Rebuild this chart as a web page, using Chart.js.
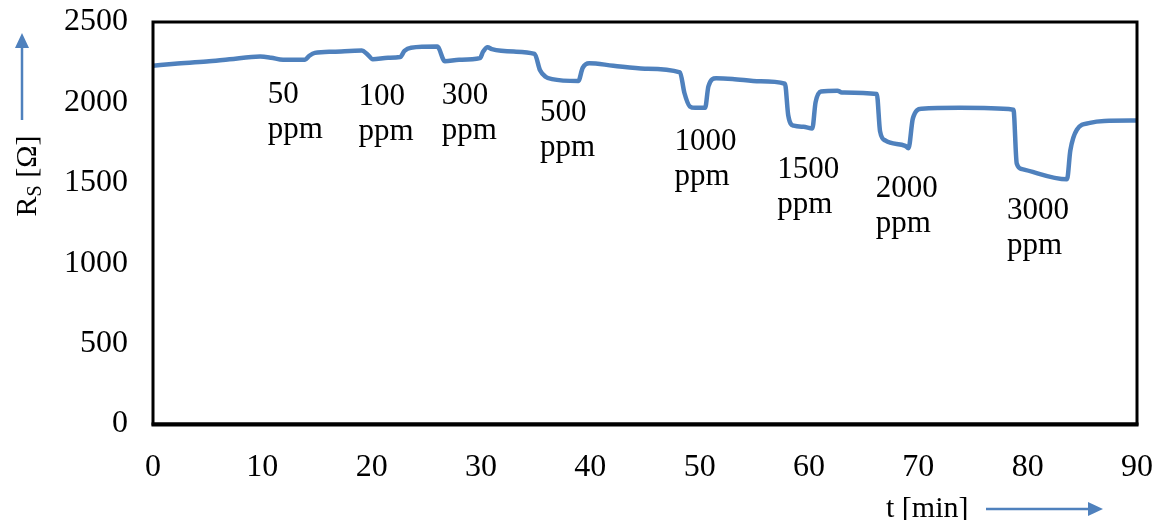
<!DOCTYPE html>
<html lang="en">
<head>
    <meta charset="UTF-8">
    <title>Sensor resistance</title>
    <script src="https://cdn.jsdelivr.net/npm/chart.js"></script>
    <style>
        body { margin: 0; background: #fff; }
        #box { width: 1158px; height: 520px; }
    </style>
</head>
<body>
<div id="box">
    <canvas id="graficoRs" width="1158" height="520"></canvas>
</div>

<script>
    // time [min] and sensor resistance Rs [Ohm]
    const tempos = [0, 2, 4.9, 7, 9.8, 10.8, 11.9, 13.9, 14.3, 14.8, 16.5, 19.1, 19.6, 20.1, 21.5, 22.6,
        23.0, 23.6, 26.0, 26.7, 28, 29.9, 30.2, 30.6, 31.0, 33, 34.9, 35.4, 35.9, 36.5, 38.9, 39.3,
        39.9, 42.1, 45, 48.2, 48.6, 49.1, 49.6, 50.5, 50.8, 51.5, 53, 55.5, 57.8, 58.1, 58.6, 59.5,
        60.3, 60.6, 61.1, 62.6, 63, 66.2, 66.5, 67.0, 68.8, 69.1, 69.5, 70.3, 73.8, 78.7, 79.0, 79.5,
        83.6, 83.9, 84.5, 85.7, 87, 90];
    const resistencia = [2228, 2240, 2254, 2268, 2285, 2278, 2265, 2266, 2290, 2308, 2315, 2322, 2300, 2268, 2278, 2282,
        2320, 2340, 2347, 2256, 2265, 2275, 2316, 2343, 2331, 2316, 2302, 2200, 2160, 2145, 2133, 2215,
        2244, 2228, 2210, 2187, 2060, 1975, 1966, 1966, 2100, 2150, 2146, 2131, 2116, 1920, 1855, 1848,
        1838, 2000, 2068, 2073, 2062, 2052, 1820, 1762, 1730, 1715, 1900, 1960, 1966, 1955, 1620, 1585,
        1522, 1700, 1830, 1873, 1885, 1887];

    const ticksX = [0, 10, 20, 30, 40, 50, 60, 70, 80, 90];
    const ticksY = [0, 500, 1000, 1500, 2000, 2500];

    // gas concentration notes, anchored in data units (left edge, middle of first line)
    const concentracoes = ['50', '100', '300', '500', '1000', '1500', '2000', '3000'];
    const notaT = [10.5, 18.8, 26.4, 35.4, 47.7, 57.1, 66.1, 78.1];
    const notaR = [2048, 2036, 2042, 1937, 1757, 1578, 1460, 1324];

    const azul = '#4f81bd';
    const fonte = "'Liberation Serif', 'Times New Roman', serif";

    function seta(ctx, x1, y1, x2, y2) {
        const ang = Math.atan2(y2 - y1, x2 - x1);
        const len = 15, meia = 7;
        ctx.strokeStyle = azul;
        ctx.fillStyle = azul;
        ctx.lineWidth = 2.5;
        ctx.beginPath();
        ctx.moveTo(x1, y1);
        ctx.lineTo(x2 - Math.cos(ang) * len, y2 - Math.sin(ang) * len);
        ctx.stroke();
        ctx.beginPath();
        ctx.moveTo(x2, y2);
        ctx.lineTo(x2 - Math.cos(ang) * len - Math.sin(ang) * meia, y2 - Math.sin(ang) * len + Math.cos(ang) * meia);
        ctx.lineTo(x2 - Math.cos(ang) * len + Math.sin(ang) * meia, y2 - Math.sin(ang) * len - Math.cos(ang) * meia);
        ctx.closePath();
        ctx.fill();
    }

    const extras = {
        id: 'extras',
        afterDatasetsDraw(chart) {
            const ctx = chart.ctx;
            const a = chart.chartArea;
            const sx = chart.scales.x, sy = chart.scales.y;

            // frame around the plot
            ctx.save();
            ctx.strokeStyle = '#000';
            ctx.lineWidth = 3;
            ctx.strokeRect(a.left, a.top, a.right - a.left, a.bottom - a.top);
            ctx.lineWidth = 4;
            ctx.beginPath();
            ctx.moveTo(a.left - 1.5, a.bottom + 0.5);
            ctx.lineTo(a.right + 1.5, a.bottom + 0.5);
            ctx.stroke();

            // ppm notes
            ctx.fillStyle = '#000';
            ctx.font = '31px ' + fonte;
            ctx.textAlign = 'left';
            ctx.textBaseline = 'middle';
            for (let i = 0; i < concentracoes.length; i++) {
                const x = sx.getPixelForValue(notaT[i]);
                const y = sy.getPixelForValue(notaR[i]);
                ctx.fillText(concentracoes[i], x, y);
                ctx.fillText('ppm', x, y + 35);
            }

            // y title: Rs [Ω], rotated
            ctx.save();
            ctx.translate(36, 176);
            ctx.rotate(-Math.PI / 2);
            ctx.textBaseline = 'alphabetic';
            ctx.font = '30px ' + fonte;
            const wR = ctx.measureText('R').width;
            const wO = ctx.measureText(' [Ω]').width;
            ctx.font = '20px ' + fonte;
            const wS = ctx.measureText('S').width;
            let px = -(wR + wS + wO) / 2;
            ctx.font = '30px ' + fonte;
            ctx.fillText('R', px, 0);
            px += wR;
            ctx.font = '20px ' + fonte;
            ctx.fillText('S', px, 5);
            px += wS;
            ctx.font = '30px ' + fonte;
            ctx.fillText(' [Ω]', px, 0);
            ctx.restore();

            // x title
            ctx.font = '30px ' + fonte;
            ctx.textBaseline = 'middle';
            ctx.fillText('t [min]', 886, 509);

            seta(ctx, 22, 120, 22, 33);
            seta(ctx, 986, 509, 1103, 509);
            ctx.restore();
        }
    };

    const pontos = tempos.map(function (t, i) { return { x: t, y: resistencia[i] }; });

    new Chart(document.getElementById('graficoRs'), {
        type: 'line',
        data: {
            datasets: [{
                data: pontos,
                borderColor: azul,
                borderWidth: 4.5,
                pointRadius: 0,
                cubicInterpolationMode: 'monotone',
                fill: false
            }]
        },
        options: {
            responsive: false,
            animation: false,
            devicePixelRatio: 1,
            layout: { padding: { left: 0, top: 22, right: 21, bottom: 0 } },
            plugins: { legend: { display: false }, tooltip: { enabled: false } },
            scales: {
                x: {
                    type: 'linear',
                    min: 0,
                    max: 90,
                    afterBuildTicks: function (s) { s.ticks = ticksX.map(function (v) { return { value: v }; }); },
                    afterFit: function (s) { s.height = 96; s.paddingLeft = 0; s.paddingRight = 0; },
                    grid: { display: false },
                    border: { display: false },
                    ticks: {
                        color: '#000', font: { family: fonte, size: 32 }, padding: 16, maxRotation: 0,
                        callback: function (v) { return String(v); }
                    }
                },
                y: {
                    min: 0,
                    max: 2500,
                    afterBuildTicks: function (s) { s.ticks = ticksY.map(function (v) { return { value: v }; }); },
                    afterFit: function (s) { s.width = 153; s.paddingTop = 0; s.paddingBottom = 0; },
                    grid: { display: false },
                    border: { display: false },
                    ticks: {
                        color: '#000', font: { family: fonte, size: 32 }, padding: 17,
                        callback: function (v) { return String(v); }
                    }
                }
            }
        },
        plugins: [extras]
    });
</script>
</body>
</html>
